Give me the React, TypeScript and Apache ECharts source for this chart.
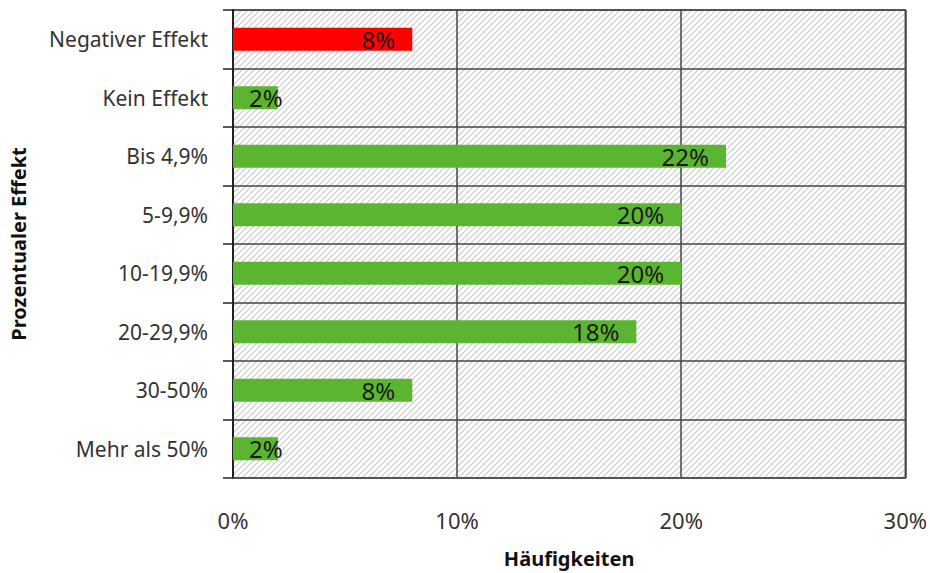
import React, { useEffect, useRef } from "react";
import * as echarts from "echarts";

const categories = [
  "Negativer Effekt",
  "Kein Effekt",
  "Bis 4,9%",
  "5-9,9%",
  "10-19,9%",
  "20-29,9%",
  "30-50%",
  "Mehr als 50%",
];
const values = [8, 2, 22, 20, 20, 18, 8, 2];
const barColors = ["#ff0000", "#5cb531", "#5cb531", "#5cb531", "#5cb531", "#5cb531", "#5cb531", "#5cb531"];
const xTicks = [0, 10, 20, 30];

function makeHatch(): string {
  const c = document.createElement("canvas");
  const s = 6;
  c.width = s;
  c.height = s;
  const ctx = c.getContext("2d")!;
  ctx.fillStyle = "#ffffff";
  ctx.fillRect(0, 0, s, s);
  ctx.strokeStyle = "#c8c8c8";
  ctx.lineWidth = 1.1;
  ctx.beginPath();
  ctx.moveTo(-1, s + 1);
  ctx.lineTo(s + 1, -1);
  ctx.moveTo(-1, 1);
  ctx.lineTo(1, -1);
  ctx.moveTo(s - 1, s + 1);
  ctx.lineTo(s + 1, s - 1);
  ctx.stroke();
  return c.toDataURL();
}

export default function App() {
  const ref = useRef<HTMLDivElement>(null);
  useEffect(() => {
    if (!ref.current) return;
    const chart = echarts.init(ref.current, undefined, { renderer: "svg" });
    const font = "'Noto Sans', 'Open Sans', sans-serif";
    chart.setOption({
      animation: false,
      backgroundColor: "#ffffff",
      grid: {
        left: 232,
        right: 24,
        top: 10,
        bottom: 86,
        show: true,
        backgroundColor: { image: makeHatch(), repeat: "repeat" },
        borderColor: "#555",
        borderWidth: 1.5,
      },
      xAxis: {
        type: "value",
        min: 0,
        max: 30,
        interval: 10,
        name: "Häufigkeiten",
        nameLocation: "middle",
        nameGap: 70,
        nameTextStyle: { fontFamily: font, fontSize: 20, fontWeight: "bold", color: "#111" },
        axisLine: { show: true, lineStyle: { color: "#555", width: 1.5 } },
        axisTick: { show: false },
        axisLabel: {
          margin: 31,
          fontFamily: font,
          fontSize: 22,
          color: "#333",
          formatter: (v: number) => (xTicks.includes(v) ? v + "%" : ""),
        },
        splitLine: { show: true, lineStyle: { color: "#444", width: 1.5 } },
      },
      yAxis: {
        type: "category",
        data: categories,
        inverse: true,
        name: "Prozentualer Effekt",
        nameLocation: "middle",
        nameGap: 205,
        nameRotate: 90,
        nameTextStyle: { fontFamily: font, fontSize: 20, fontWeight: "bold", color: "#111" },
        axisLine: { show: true, lineStyle: { color: "#222", width: 2 } },
        axisTick: { show: true, length: 10, lineStyle: { color: "#222", width: 1.5 } },
        axisLabel: { margin: 25, fontFamily: font, fontSize: 21, color: "#333" },
        splitLine: { show: true, lineStyle: { color: "#444", width: 1.5 } },
      },
      series: [
        {
          type: "bar",
          data: values.map((v, i) => ({
            value: v,
            itemStyle: { color: barColors[i] },
            label: v < 5 ? { position: "insideLeft", distance: 16 } : undefined,
          })),
          barWidth: 23,
          label: {
            show: true,
            position: "insideRight",
            distance: 17,
            formatter: "{c}%",
            fontFamily: font,
            fontSize: 24,
            color: "#1a1a1a",
          },
        },
      ],
    });
    return () => chart.dispose();
  }, []);
  return (
    <div
      ref={ref}
      style={{ position: "absolute", left: 0, top: 0, width: 930, height: 573 }}
    />
  );
}
